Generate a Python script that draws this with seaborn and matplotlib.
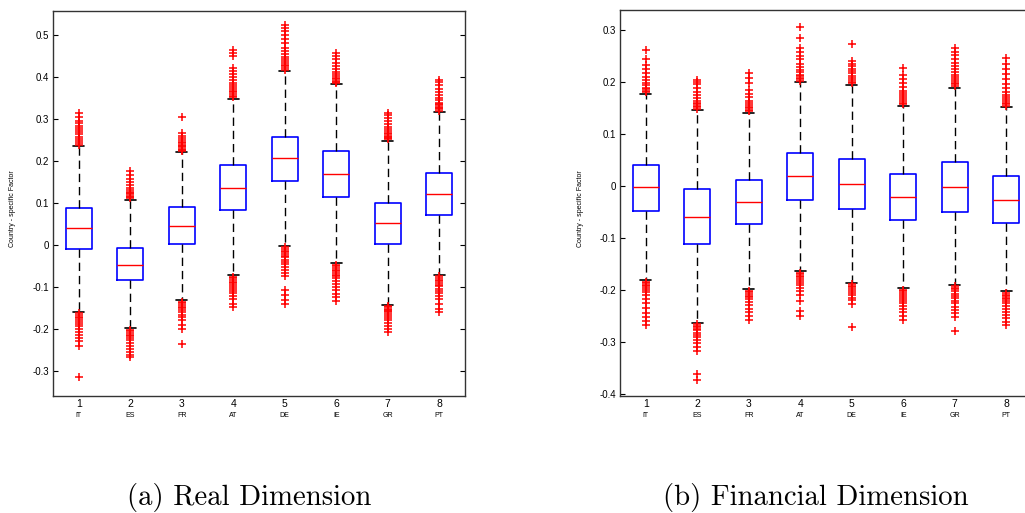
import numpy as np
import matplotlib
matplotlib.use("Agg")
import matplotlib.pyplot as plt
import seaborn as sns

# countries on the x axis
countries = ["IT", "ES", "FR", "AT", "DE", "IE", "GR", "PT"]

# (a) Real dimension: box statistics
real_q1 = [-0.010, -0.084, 0.002, 0.083, 0.153, 0.114, 0.002, 0.072]
real_med = [0.039, -0.047, 0.044, 0.136, 0.206, 0.168, 0.051, 0.120]
real_q3 = [0.087, -0.008, 0.089, 0.190, 0.257, 0.223, 0.100, 0.171]
real_lo = [-0.159, -0.198, -0.131, -0.072, -0.003, -0.044, -0.143, -0.072]
real_hi = [0.235, 0.108, 0.220, 0.348, 0.414, 0.382, 0.248, 0.317]
real_fliers = [
    [0.238, 0.243, 0.248, 0.253, 0.258, 0.263, 0.268, 0.273, 0.278, 0.284, 0.290, 0.296, 0.305, 0.314,
     -0.163, -0.167, -0.171, -0.175, -0.179, -0.183, -0.188, -0.194, -0.200, -0.207, -0.214, -0.222, -0.230, -0.240, -0.315],
    [0.111, 0.114, 0.117, 0.120, 0.123, 0.126, 0.130, 0.135, 0.142, 0.150, 0.158, 0.166, 0.176,
     -0.202, -0.206, -0.210, -0.214, -0.218, -0.222, -0.227, -0.233, -0.240, -0.247, -0.255, -0.262, -0.267],
    [0.223, 0.226, 0.229, 0.232, 0.235, 0.238, 0.242, 0.246, 0.250, 0.255, 0.260, 0.267, 0.305,
     -0.135, -0.139, -0.143, -0.147, -0.151, -0.155, -0.160, -0.166, -0.173, -0.180, -0.190, -0.200, -0.236],
    [0.351, 0.355, 0.359, 0.363, 0.367, 0.371, 0.375, 0.380, 0.386, 0.393, 0.400, 0.408, 0.415, 0.422, 0.450, 0.457, 0.464,
     -0.076, -0.080, -0.084, -0.088, -0.092, -0.096, -0.100, -0.104, -0.109, -0.115, -0.122, -0.130, -0.140, -0.149],
    [0.417, 0.421, 0.425, 0.429, 0.433, 0.437, 0.442, 0.448, 0.455, 0.462, 0.470, 0.480, 0.490, 0.500, 0.510, 0.517, 0.524,
     -0.006, -0.010, -0.014, -0.018, -0.022, -0.026, -0.030, -0.035, -0.040, -0.046, -0.052, -0.060, -0.068, -0.074,
     -0.108, -0.120, -0.132, -0.141],
    [0.385, 0.388, 0.391, 0.394, 0.397, 0.401, 0.406, 0.412, 0.418, 0.426, 0.434, 0.442, 0.450, 0.456,
     -0.047, -0.051, -0.055, -0.059, -0.063, -0.067, -0.071, -0.075, -0.080, -0.086, -0.093, -0.100, -0.108, -0.116, -0.124, -0.133],
    [0.251, 0.254, 0.257, 0.260, 0.263, 0.266, 0.270, 0.275, 0.281, 0.288, 0.295, 0.302, 0.309, 0.314,
     -0.146, -0.149, -0.152, -0.155, -0.158, -0.161, -0.165, -0.169, -0.174, -0.180, -0.186, -0.193, -0.200, -0.208],
    [0.320, 0.323, 0.326, 0.329, 0.332, 0.335, 0.339, 0.344, 0.350, 0.357, 0.364, 0.372, 0.380, 0.387, 0.393,
     -0.075, -0.079, -0.083, -0.087, -0.091, -0.095, -0.099, -0.104, -0.109, -0.114, -0.121, -0.130, -0.140, -0.152, -0.161],
]

# (b) Financial dimension
fin_q1 = [-0.048, -0.112, -0.073, -0.028, -0.044, -0.066, -0.050, -0.071]
fin_med = [-0.003, -0.059, -0.031, 0.018, 0.004, -0.021, -0.003, -0.028]
fin_q3 = [0.040, -0.007, 0.011, 0.063, 0.052, 0.023, 0.045, 0.018]
fin_lo = [-0.181, -0.263, -0.199, -0.164, -0.186, -0.197, -0.190, -0.203]
fin_hi = [0.177, 0.145, 0.140, 0.199, 0.194, 0.154, 0.189, 0.151]
fin_fliers = [
    [0.180, 0.183, 0.186, 0.189, 0.193, 0.198, 0.204, 0.210, 0.217, 0.224, 0.232, 0.244, 0.261,
     -0.184, -0.187, -0.190, -0.193, -0.197, -0.201, -0.205, -0.210, -0.218, -0.226, -0.235, -0.245, -0.252, -0.260, -0.268],
    [0.148, 0.151, 0.154, 0.157, 0.160, 0.164, 0.169, 0.175, 0.181, 0.188, 0.195, 0.199, 0.203,
     -0.266, -0.269, -0.272, -0.275, -0.278, -0.282, -0.286, -0.291, -0.297, -0.303, -0.310, -0.317, -0.362, -0.373],
    [0.143, 0.146, 0.149, 0.152, 0.155, 0.159, 0.164, 0.170, 0.177, 0.185, 0.198, 0.207, 0.216,
     -0.202, -0.205, -0.208, -0.211, -0.214, -0.218, -0.223, -0.229, -0.236, -0.243, -0.250, -0.258],
    [0.202, 0.205, 0.208, 0.211, 0.214, 0.218, 0.222, 0.228, 0.235, 0.243, 0.250, 0.258, 0.264, 0.285, 0.306,
     -0.167, -0.170, -0.173, -0.176, -0.179, -0.182, -0.186, -0.190, -0.196, -0.203, -0.210, -0.222, -0.240, -0.250],
    [0.197, 0.200, 0.204, 0.208, 0.212, 0.216, 0.220, 0.225, 0.230, 0.235, 0.240, 0.272,
     -0.189, -0.192, -0.195, -0.198, -0.202, -0.206, -0.210, -0.215, -0.220, -0.228, -0.272],
    [0.157, 0.160, 0.163, 0.166, 0.170, 0.174, 0.178, 0.183, 0.190, 0.197, 0.205, 0.214, 0.226,
     -0.200, -0.203, -0.206, -0.209, -0.213, -0.217, -0.221, -0.226, -0.231, -0.237, -0.243, -0.250, -0.258],
    [0.192, 0.195, 0.198, 0.201, 0.205, 0.209, 0.214, 0.219, 0.224, 0.230, 0.237, 0.244, 0.252, 0.258, 0.265,
     -0.193, -0.196, -0.199, -0.203, -0.207, -0.211, -0.216, -0.221, -0.226, -0.232, -0.238, -0.245, -0.252, -0.279],
    [0.154, 0.157, 0.160, 0.163, 0.166, 0.170, 0.175, 0.181, 0.188, 0.195, 0.205, 0.215, 0.225, 0.235, 0.245,
     -0.206, -0.209, -0.212, -0.215, -0.218, -0.222, -0.226, -0.231, -0.236, -0.242, -0.248, -0.255, -0.262, -0.268],
]

real_yticks = [-0.3, -0.2, -0.1, 0, 0.1, 0.2, 0.3, 0.4, 0.5]
fin_yticks = [-0.4, -0.3, -0.2, -0.1, 0, 0.1, 0.2, 0.3]

sns.set_theme(style="white")
plt.rcParams['font.family'] = ['Liberation Sans Narrow', 'Liberation Sans', 'DejaVu Sans']
plt.rcParams['text.color'] = 'black'
plt.rcParams['xtick.color'] = 'black'
plt.rcParams['ytick.color'] = 'black'

TICK_FONT = ['Liberation Sans Narrow', 'Liberation Sans', 'DejaVu Sans']


def build_stats(q1, med, q3, lo, hi, fliers):
    stats = []
    for i in range(len(q1)):
        stats.append(dict(q1=q1[i], med=med[i], q3=q3[i], whislo=lo[i], whishi=hi[i],
                          fliers=fliers[i], label=str(i + 1)))
    return stats


def draw_panel(ax, stats, yticks, ylim):
    ax.bxp(stats, positions=range(1, len(stats) + 1), widths=0.5, capwidths=0.22,
           boxprops=dict(color='blue', linewidth=1.2),
           medianprops=dict(color='red', linewidth=1.0),
           whiskerprops=dict(color='black', linewidth=1.0, linestyle=(0, (6, 3.5))),
           capprops=dict(color='black', linewidth=1.2),
           flierprops=dict(marker='+', markeredgecolor='red', markersize=6, markeredgewidth=1.1,
                           linestyle='none'))
    ax.set_xlim(0.5, 8.5)
    ax.set_ylim(*ylim)
    ax.set_yticks(yticks)
    ax.set_yticklabels(["0" if abs(t) < 1e-9 else f"{t:g}" for t in yticks],
                       family=TICK_FONT, fontsize=7, color='black')
    ax.set_xticks(range(1, 9))
    ax.set_xticklabels([str(i) for i in range(1, 9)], family=TICK_FONT, fontsize=7.5,
                       color='black')
    ax.tick_params(axis='x', length=0, pad=2)
    ax.tick_params(axis='y', direction='in', length=3.5, width=0.8, left=True, right=True,
                   pad=3, colors='black')
    for i, c in enumerate(countries):
        ax.annotate(c, xy=(i + 1, 0), xycoords=('data', 'axes fraction'),
                    xytext=(0, -14), textcoords='offset points',
                    ha='center', va='center', fontsize=5, family=TICK_FONT, color='black')
    for s in ax.spines.values():
        s.set_color('#333333')
        s.set_linewidth(1.0)
        s.set_visible(True)


fig = plt.figure(figsize=(10.25, 5.13), dpi=100)
ax1 = fig.add_axes([53 / 1025, 1 - 396 / 513, 412 / 1025, 385 / 513])
ax2 = fig.add_axes([620 / 1025, 1 - 396 / 513, 412 / 1025, 386 / 513])

draw_panel(ax1, build_stats(real_q1, real_med, real_q3, real_lo, real_hi, real_fliers),
           real_yticks, (-0.36, 0.557))
draw_panel(ax2, build_stats(fin_q1, fin_med, fin_q3, fin_lo, fin_hi, fin_fliers),
           fin_yticks, (-0.404, 0.338))

for x in (13, 580):
    fig.text(x / 1025, 1 - 209 / 513, "Country - specific Factor", rotation=90,
             ha='center', va='center', fontsize=5, family=TICK_FONT, color='black')

fig.text(249 / 1025, 1 - 497 / 513, "(a) Real Dimension", ha='center', va='center',
         fontsize=20.7, family='cmr10', color='black')
fig.text(816 / 1025, 1 - 497 / 513, "(b) Financial Dimension", ha='center', va='center',
         fontsize=20.7, family='cmr10', color='black')

fig.savefig("out.png", dpi=100)
